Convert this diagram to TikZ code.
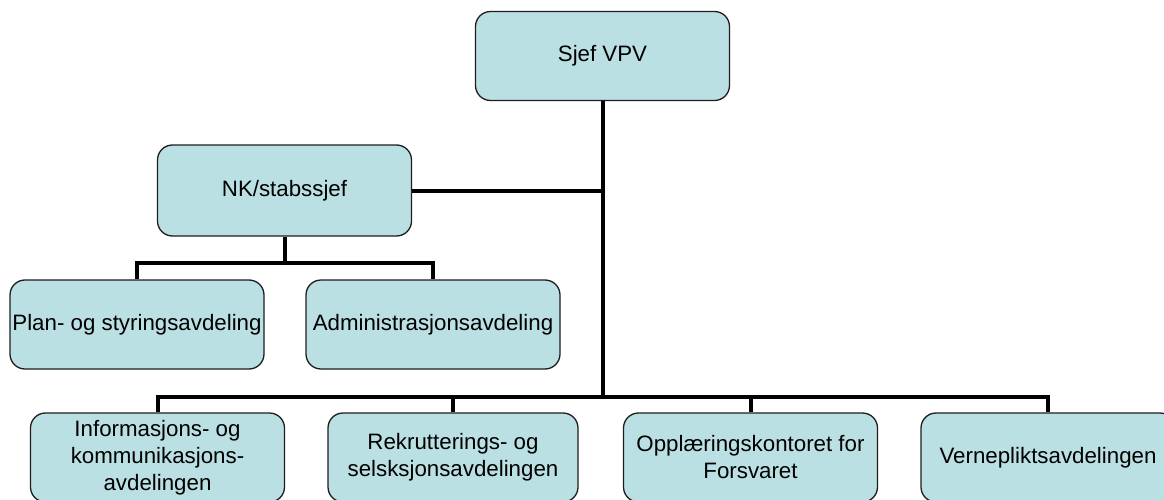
\documentclass[tikz,border=0pt]{standalone}
\usepackage{fontspec}
\setmainfont{Liberation Sans}
\definecolor{boxfill}{RGB}{187,224,227}
\definecolor{boxline}{RGB}{30,30,30}
\tikzset{
  unit/.style={minimum width=254pt, minimum height=89pt, inner sep=0pt,
    draw=boxline, line width=1.3pt, fill=boxfill, rounded corners=15pt,
    align=center, font=\fontsize{22.3}{27}\selectfont},
  conn/.style={line width=4pt, draw=black, line join=miter}
}
\begin{document}
\begin{tikzpicture}[x=1pt, y=-1pt]
\clip (0,0) rectangle (1164,500);
\useasboundingbox (0,0) rectangle (1164,500);
\fill[white] (0,0) rectangle (1164,500);
\coordinate (barA) at (285,263);
\coordinate (barB) at (603,397);
\node[unit] (sjef) at (602.5,56) {Sjef VPV};
\node[unit, minimum height=91pt] (nk) at (284.5,190.5) {NK/stabssjef};
\node[unit] (plan) at (137,324.5) {Plan- og styringsavdeling};
\node[unit] (admin) at (433,324.5) {Administrasjonsavdeling};
\node[unit] (info) at (157.5,457.5) {Informasjons- og\\kommunikasjons-\\avdelingen};
\node[unit, minimum width=250pt] (rekr) at (453,457.5) {Rekrutterings- og\\selsksjonsavdelingen};
\node[unit] (oppl) at (750.5,457.5) {Opplæringskontoret for\\Forsvaret};
\node[unit] (verne) at (1048,457.5) {Vernepliktsavdelingen};
\draw[conn] (sjef.south) -- (sjef.south |- barB);
\draw[conn] (nk.east) -- (nk.east -| sjef.south);
\draw[conn] (info.north) -- (info.north |- barB) -- (verne.north |- barB) -- (verne.north);
\draw[conn] (rekr.north) -- (rekr.north |- barB);
\draw[conn] (oppl.north) -- (oppl.north |- barB);
\draw[conn] (nk.south) -- (nk.south |- barA);
\draw[conn] (plan.north) -- (plan.north |- barA) -- (admin.north |- barA) -- (admin.north);
\end{tikzpicture}
\end{document}
